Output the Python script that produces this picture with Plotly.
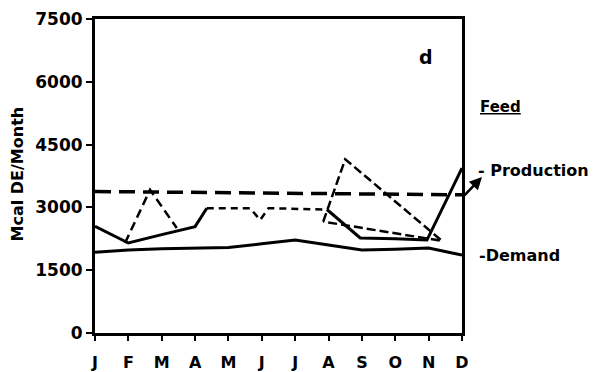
import plotly.graph_objects as go

months = ["J", "F", "M", "A", "M", "J", "J", "A", "S", "O", "N", "D"]
month_pos = list(range(12))
y_ticks = [0, 1500, 3000, 4500, 6000, 7500]

demand = [1930, 1980, 2010, 2030, 2040, 2130, 2220, 2100, 1980, 2000, 2030, 1860]

prod_x = [0, 1, 2, 3, 3.35, 4.65, 4.95, 5.2, 6.95, 7.95, 9, 9.95, 11]
prod_y = [2550, 2150, 2350, 2540, 2980, 2980, 2700, 2980, 2950, 2270, 2250, 2220, 3940]

dash1_x = [0.9, 1.65, 2.45]
dash1_y = [2150, 3420, 2510]

tri_x = [6.84, 7.5, 10.4, 6.84]
tri_y = [2660, 4150, 2200, 2660]

feed_x = [0, 11]
feed_y = [3380, 3300]

BLACK = "#000000"
FONT = "DejaVu Sans"

fig = go.Figure()

fig.add_trace(go.Scatter(x=month_pos, y=demand, mode="lines",
                         line=dict(color=BLACK, width=3)))
fig.add_trace(go.Scatter(x=prod_x[:5], y=prod_y[:5], mode="lines",
                         line=dict(color=BLACK, width=3)))
fig.add_trace(go.Scatter(x=prod_x[4:9], y=prod_y[4:9], mode="lines",
                         line=dict(color=BLACK, width=2.5, dash="7px,5px")))
fig.add_trace(go.Scatter(x=prod_x[8:], y=prod_y[8:], mode="lines",
                         line=dict(color=BLACK, width=3)))
fig.add_trace(go.Scatter(x=dash1_x, y=dash1_y, mode="lines",
                         line=dict(color=BLACK, width=2.5, dash="9px,5px")))
fig.add_trace(go.Scatter(x=tri_x, y=tri_y, mode="lines",
                         line=dict(color=BLACK, width=2.5, dash="9px,4px")))
fig.add_trace(go.Scatter(x=feed_x, y=feed_y, mode="lines",
                         line=dict(color=BLACK, width=3.5, dash="16px,8px")))

fig.update_layout(
    width=599, height=372,
    margin=dict(l=95, r=137, t=19, b=39, autoexpand=False),
    paper_bgcolor="white", plot_bgcolor="white",
    showlegend=False,
    font=dict(family=FONT, color=BLACK),
    xaxis=dict(range=[0, 11], tickvals=month_pos, ticktext=months,
               automargin=False,
               showgrid=False, zeroline=False,
               showline=True, linecolor=BLACK, linewidth=3, mirror=True,
               ticks="outside", ticklen=5, tickwidth=2, tickcolor=BLACK,
               ticklabelstandoff=8,
               tickfont=dict(family=FONT, size=16, weight="bold", color=BLACK)),
    yaxis=dict(range=[0, 7500], tickvals=y_ticks,
               automargin=False,
               showgrid=False, zeroline=False,
               showline=True, linecolor=BLACK, linewidth=3, mirror=True,
               ticks="outside", ticklen=6, tickwidth=2, tickcolor=BLACK,
               ticklabelstandoff=0,
               tickfont=dict(family=FONT, size=17, weight="bold", color=BLACK)),
)

fig.add_annotation(text="Mcal DE/Month", xref="paper", yref="paper",
                   x=-0.2125, y=0.505, textangle=-90, showarrow=False,
                   xanchor="center", yanchor="middle",
                   font=dict(family=FONT, size=16, weight="bold", color=BLACK))
fig.add_annotation(text="d", xref="paper", yref="paper", x=0.902, y=0.879,
                   showarrow=False, xanchor="center", yanchor="middle",
                   font=dict(family=FONT, size=19, weight="bold", color=BLACK))
fig.add_annotation(text="<u>Feed</u>", xref="paper", yref="paper", x=1.106, y=0.72,
                   showarrow=False, xanchor="center", yanchor="middle",
                   font=dict(family=FONT, size=15, weight="bold", color=BLACK))
fig.add_annotation(text="- Production", xref="paper", yref="paper", x=1.038, y=0.519,
                   showarrow=False, xanchor="left", yanchor="middle",
                   font=dict(family=FONT, size=16, weight="bold", color=BLACK))
fig.add_annotation(text="-Demand", xref="paper", yref="paper", x=1.040, y=0.248,
                   showarrow=False, xanchor="left", yanchor="middle",
                   font=dict(family=FONT, size=16, weight="bold", color=BLACK))
fig.add_annotation(text="", xref="paper", yref="paper", x=1.0545, y=0.497,
                   ax=-19, ay=20, showarrow=True, arrowhead=2, arrowsize=1,
                   arrowwidth=2.5, arrowcolor=BLACK)

fig.write_html("out.html")
